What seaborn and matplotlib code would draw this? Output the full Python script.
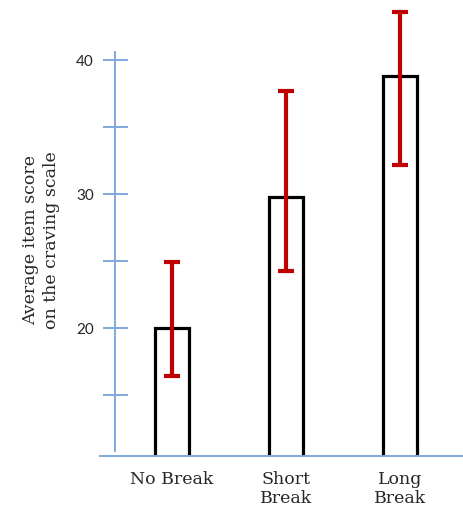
import matplotlib
matplotlib.use("Agg")
import matplotlib.pyplot as plt
import seaborn as sns
import numpy as np
import pandas as pd

# values
categories = ["No Break", "Short\nBreak", "Long\nBreak"]
means = [20.0, 29.8, 38.8]
err_low = [16.4, 24.3, 32.2]
err_high = [24.9, 37.7, 43.6]
yticks = [15, 20, 25, 30, 35, 40]
ytick_labels = ["", "20", "", "30", "", "40"]

axis_blue = "#7fa8dc"
bar_red = "#c00000"
serif = ["DejaVu Serif"]

sns.set_style("white")

df = pd.DataFrame({"condition": categories, "score": means})

fig = plt.figure(figsize=(4.64, 5.08), dpi=100)
ax = fig.add_axes([100 / 464, 52 / 508, 364 / 464, 456 / 508])

sns.barplot(data=df, x="condition", y="score", ax=ax, width=0.3,
            fill=False, edgecolor="black", linewidth=2.3, errorbar=None)

# asymmetric error bars
x = np.arange(len(categories))
lower = np.array(means) - np.array(err_low)
upper = np.array(err_high) - np.array(means)
ax.errorbar(x, means, yerr=[lower, upper], fmt="none", ecolor=bar_red,
            elinewidth=3, capsize=6, capthick=3, zorder=5)

ax.set_xlim(-0.63, 2.56)
ax.set_ylim(10.45, 44.5)

for s in ["top", "right"]:
    ax.spines[s].set_visible(False)
ax.spines["left"].set_position(("data", -0.5))
ax.spines["left"].set_bounds(10.8, 40.6)
for s in ["left", "bottom"]:
    ax.spines[s].set_color(axis_blue)
    ax.spines[s].set_linewidth(1.4)

ax.set_yticks(yticks)
ax.set_yticklabels(ytick_labels, family=["Lato", "DejaVu Sans"], fontsize=11)
ax.tick_params(axis="y", direction="inout", length=18, width=1.4,
               color=axis_blue, pad=6, left=True)
ax.tick_params(axis="x", length=0, pad=11)
for lab in ax.get_xticklabels():
    lab.set_family(serif)
    lab.set_fontsize(12.5)
    lab.set_linespacing(1.15)

ax.set_xlabel("")
ax.set_ylabel("Average item score\non the craving scale",
              family=serif, fontsize=12.5, linespacing=1.3)
ax.yaxis.set_label_coords(-0.11, 0.474)

fig.savefig("out.png", dpi=100)
